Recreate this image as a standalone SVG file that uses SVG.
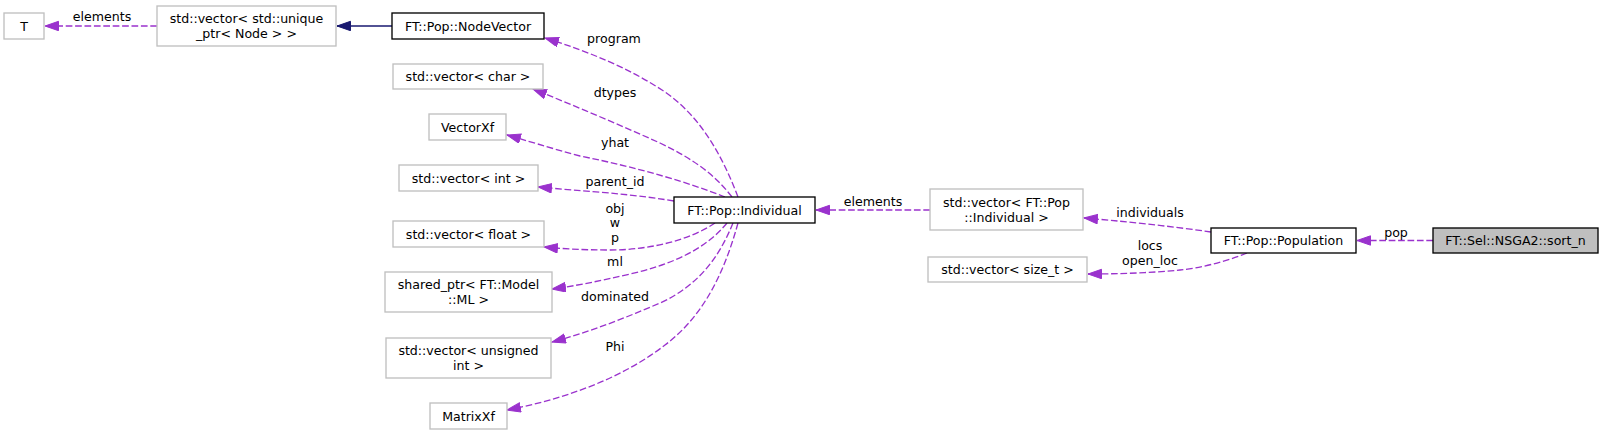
<svg xmlns="http://www.w3.org/2000/svg" width="1604" height="435" viewBox="0 0 1604 435">
<style>
text{font-family:"DejaVu Sans","Liberation Sans",sans-serif;font-size:12.6px;fill:#000;text-anchor:middle}
.g{fill:#fff;stroke:#bfbfbf;stroke-width:1.33}
.b{fill:#fff;stroke:#000;stroke-width:1.33}
.s{fill:#bfbfbf;stroke:#000;stroke-width:1.33}
.d{fill:none;stroke:#9a32cd;stroke-width:1.33;stroke-dasharray:6.7,2.7;marker-end:url(#ap)}
.n{fill:none;stroke:#191970;stroke-width:1.33;marker-end:url(#an)}
</style>
<defs>
<marker id="ap" markerUnits="userSpaceOnUse" markerWidth="16" markerHeight="12" refX="14" refY="5" orient="auto">
<path d="M0.5,0.3 L14,5 L0.5,9.7 z" fill="#9a32cd" stroke="#9a32cd" stroke-width="1"/>
</marker>
<marker id="an" markerUnits="userSpaceOnUse" markerWidth="16" markerHeight="12" refX="14" refY="5" orient="auto">
<path d="M0.5,0.3 L14,5 L0.5,9.7 z" fill="#191970" stroke="#191970" stroke-width="1"/>
</marker>
</defs>
<g id="edges">
<path class="d" d="M1433,240.5 L1357,240.5"/>
<text x="1396" y="237">pop</text>
<path class="d" d="M1211,232 C1170,226 1120,221 1084,218"/>
<text x="1150" y="217">individuals</text>
<path class="d" d="M1247,253 C1225,262 1200,268 1180,270 C1150,273 1115,274 1088,274"/>
<text x="1150" y="249.5">locs</text>
<text x="1150" y="264.5">open_loc</text>
<path class="d" d="M930,210 L816,210"/>
<text x="873" y="206">elements</text>
<path class="n" d="M392,26 L337,26"/>
<path class="d" d="M157,26 L45,26"/>
<text x="102" y="21">elements</text>
<path class="d" d="M738,197 C722,155 700,115 662,90 C628,68 590,52 545,38"/>
<text x="614" y="43">program</text>
<path class="d" d="M732,197 C715,175 695,160 660,143 C620,125 575,106 533,89"/>
<text x="615" y="97">dtypes</text>
<path class="d" d="M725,197 C690,183 640,168 580,156 C550,148 525,140 507,135"/>
<text x="615" y="147">yhat</text>
<path class="d" d="M674,201 C650,197 630,195 610,193 C585,191 560,189 538,187"/>
<text x="615" y="186">parent_id</text>
<path class="d" d="M715,223 C690,240 650,250 610,250 C585,250 565,249 544,247"/>
<text x="615" y="213">obj</text>
<text x="615" y="227">w</text>
<text x="615" y="242">p</text>
<path class="d" d="M727,223 C705,250 670,265 630,274 C600,281 575,286 552,289"/>
<text x="615" y="266">ml</text>
<path class="d" d="M733,223 C720,255 700,285 660,303 C625,318 590,332 552,342"/>
<text x="615" y="301">dominated</text>
<path class="d" d="M738,223 C725,270 705,315 665,345 C620,380 560,400 507,410"/>
<text x="615" y="351">Phi</text>
</g>
<g id="n_T"><rect class="g" x="4" y="13" width="40" height="26"/><text x="24" y="30.5">T</text></g>
<g id="n_uptr"><rect class="g" x="157" y="6" width="179" height="40"/><text x="246.5" y="23">std::vector&lt; std::unique</text><text x="246.5" y="38">_ptr&lt; Node &gt; &gt;</text></g>
<g id="n_nodevector"><rect class="b" x="392" y="13" width="152" height="26"/><text x="468" y="30.5">FT::Pop::NodeVector</text></g>
<g id="n_vchar"><rect class="g" x="393" y="64" width="150" height="25"/><text x="468" y="81">std::vector&lt; char &gt;</text></g>
<g id="n_vectorxf"><rect class="g" x="429" y="114" width="77" height="26"/><text x="467.5" y="131.5">VectorXf</text></g>
<g id="n_vint"><rect class="g" x="399" y="165" width="139" height="26"/><text x="468.5" y="182.5">std::vector&lt; int &gt;</text></g>
<g id="n_vfloat"><rect class="g" x="393" y="221" width="151" height="26"/><text x="468.5" y="238.5">std::vector&lt; float &gt;</text></g>
<g id="n_sptr"><rect class="g" x="385" y="272" width="167" height="40"/><text x="468.5" y="289">shared_ptr&lt; FT::Model</text><text x="468.5" y="304">::ML &gt;</text></g>
<g id="n_vuint"><rect class="g" x="386" y="338" width="165" height="40"/><text x="468.5" y="355">std::vector&lt; unsigned</text><text x="468.5" y="370">int &gt;</text></g>
<g id="n_matrixxf"><rect class="g" x="430" y="403" width="77" height="26"/><text x="468.5" y="420.5">MatrixXf</text></g>
<g id="n_individual"><rect class="b" x="674" y="197" width="141" height="26"/><text x="744.5" y="214.5">FT::Pop::Individual</text></g>
<g id="n_vind"><rect class="g" x="930" y="189" width="153" height="41"/><text x="1006.5" y="206.5">std::vector&lt; FT::Pop</text><text x="1006.5" y="221.5">::Individual &gt;</text></g>
<g id="n_vsize"><rect class="g" x="928" y="257" width="159" height="25"/><text x="1007.5" y="274">std::vector&lt; size_t &gt;</text></g>
<g id="n_population"><rect class="b" x="1211" y="228" width="145" height="25"/><text x="1283.5" y="245">FT::Pop::Population</text></g>
<g id="n_sortn"><rect class="s" x="1433" y="228" width="165" height="25"/><text x="1515.5" y="245">FT::Sel::NSGA2::sort_n</text></g>
</svg>
